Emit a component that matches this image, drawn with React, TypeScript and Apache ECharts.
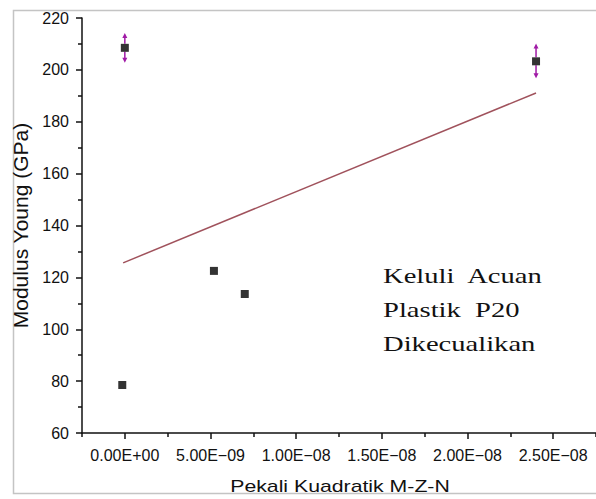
import React, { useEffect, useRef } from "react";
import * as echarts from "echarts";

// Data
const pointsX = [0, -1.5e-10, 5.2e-9, 7.0e-9, 2.4e-8];
const pointsY = [208.5, 78.5, 122.5, 113.6, 203.3];
// Error bars (only for the two high points)
const errX = [0, 2.4e-8];
const errY = [208.5, 203.3];
const errLow = [202.7, 196.8];
const errHigh = [214.2, 210.2];
// Fitted line end points
const fitX = [-1e-10, 2.4e-8];
const fitY = [125.6, 191.1];

const xTickValues = [0, 5e-9, 1e-8, 1.5e-8, 2e-8, 2.5e-8];
const xTickLabels = ["0.00E+00", "5.00E\u221209", "1.00E\u221208", "1.50E\u221208", "2.00E\u221208", "2.50E\u221208"];
const xMinorValues = [-2.5e-9, 2.5e-9, 7.5e-9, 1.25e-8, 1.75e-8, 2.25e-8, 2.75e-8];
const yTicks = [60, 80, 100, 120, 140, 160, 180, 200, 220];

const xAxisTitle = "Pekali Kuadratik M-Z-N";
const yAxisTitle = "Modulus Young (GPa)";
const annotationLines = ["Keluli  Acuan", "Plastik  P20", "Dikecualikan"];

const FONT = "'Liberation Sans', Arial, sans-serif";
const ERR_COLOR = "#a01aa6";

export default function App() {
  const ref = useRef<HTMLDivElement>(null);
  useEffect(() => {
    if (!ref.current) return;
    const chart = echarts.init(ref.current, undefined, { renderer: "svg" });
    const xMin = -2.5e-9;
    const xMax = 2.75e-8;
    const labelFor = (v: number) => {
      let best = 0;
      let bd = Infinity;
      xTickValues.forEach((t, i) => {
        const d = Math.abs(t - v);
        if (d < bd) {
          bd = d;
          best = i;
        }
      });
      return bd < 1e-10 ? xTickLabels[best] : "";
    };
    chart.setOption({
      animation: false,
      backgroundColor: "#ffffff",
      grid: { left: 82, top: 18, width: 517, height: 415, containLabel: false },
      xAxis: [
        {
          type: "value",
          min: xMin,
          max: xMax,
          interval: 2.5e-9,
          axisLine: { show: true, onZero: false, lineStyle: { color: "#111", width: 1.5 } },
          axisTick: { show: true, inside: false, length: 6, customValues: xTickValues, lineStyle: { color: "#111", width: 1.5 } },
          axisLabel: {
            show: true,
            customValues: xTickValues,
            formatter: (v: number) => labelFor(v),
            fontFamily: FONT,
            fontSize: 16,
            color: "#111",
            margin: 14,
          },
          splitLine: { show: false },
        },
        {
          type: "value",
          min: xMin,
          max: xMax,
          interval: 2.5e-9,
          position: "bottom",
          axisLine: { show: false, onZero: false },
          axisTick: { show: true, inside: false, length: 4, customValues: xMinorValues, lineStyle: { color: "#111", width: 1.5 } },
          axisLabel: { show: false },
          splitLine: { show: false },
        },
      ],
      yAxis: {
        type: "value",
        min: 60,
        max: 220,
        interval: 20,
        name: yAxisTitle,
        nameLocation: "middle",
        nameGap: 41,
        nameTextStyle: { fontFamily: FONT, fontSize: 21, color: "#111" },
        axisLine: { show: true, onZero: false, lineStyle: { color: "#111", width: 1.5 } },
        axisTick: { show: true, inside: false, length: 6, lineStyle: { color: "#111", width: 1.5 } },
        minorTick: { show: true, splitNumber: 2, length: 4, lineStyle: { color: "#111", width: 1.5 } },
        axisLabel: {
          fontFamily: FONT,
          fontSize: 16,
          color: "#111",
          margin: 13,
          formatter: (v: number) => (yTicks.includes(v) ? String(v) : ""),
        },
        splitLine: { show: false },
      },
      graphic: [
        {
          type: "rect",
          shape: { x: 13.5, y: 10.5, width: 700, height: 483 },
          style: { fill: "none", stroke: "#c4c4c4", lineWidth: 1.5 },
          silent: true,
          z: -1,
        },
        {
          type: "text",
          x: 340,
          y: 486,
          scaleX: 1.25,
          style: {
            text: xAxisTitle,
            font: "17px 'Liberation Sans', Arial, sans-serif",
            fill: "#111",
            textAlign: "center",
            textVerticalAlign: "middle",
          },
        },
        {
          type: "text",
          x: 383,
          y: 259,
          scaleX: 1.3,
          style: {
            text: annotationLines.join("\n"),
            font: "22px 'Liberation Serif', 'Times New Roman', serif",
            lineHeight: 34,
            fill: "#111",
            textAlign: "left",
            textVerticalAlign: "top",
          },
        },
      ],
      series: [
        {
          type: "line",
          data: fitX.map((x, i) => [x, fitY[i]]),
          symbol: "none",
          lineStyle: { color: "#a0525c", width: 1.5 },
          z: 2,
        },
        {
          type: "custom",
          data: errX.map((x, i) => [x, errY[i], errLow[i], errHigh[i]]),
          renderItem: (params: any, api: any) => {
            const c = api.coord([api.value(0), api.value(1)]);
            const lo = api.coord([api.value(0), api.value(2)]);
            const hi = api.coord([api.value(0), api.value(3)]);
            const x = c[0];
            const half = 4;
            const aw = 2.5;
            const ah = 4;
            const style = { stroke: ERR_COLOR, lineWidth: 1.5 };
            return {
              type: "group",
              children: [
                { type: "line", shape: { x1: x, y1: c[1] - half, x2: x, y2: hi[1] + ah }, style },
                { type: "line", shape: { x1: x, y1: c[1] + half, x2: x, y2: lo[1] - ah }, style },
                {
                  type: "polygon",
                  shape: { points: [[x, hi[1]], [x - aw, hi[1] + ah + 1], [x + aw, hi[1] + ah + 1]] },
                  style: { fill: ERR_COLOR },
                },
                {
                  type: "polygon",
                  shape: { points: [[x, lo[1]], [x - aw, lo[1] - ah - 1], [x + aw, lo[1] - ah - 1]] },
                  style: { fill: ERR_COLOR },
                },
              ],
            };
          },
          z: 3,
        },
        {
          type: "scatter",
          data: pointsX.map((x, i) => [x, pointsY[i]]),
          symbol: "rect",
          symbolSize: 8,
          itemStyle: { color: "#000" },
          z: 4,
        },
      ],
    });
    return () => chart.dispose();
  }, []);
  return (
    <div
      ref={ref}
      style={{ position: "fixed", left: 0, top: 0, width: 596, height: 499, background: "#fff" }}
    />
  );
}
